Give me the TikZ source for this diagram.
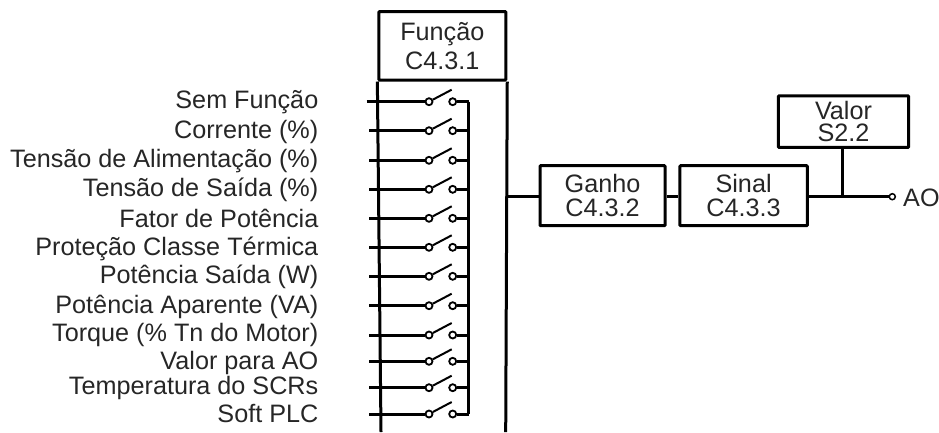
\documentclass[tikz,border=0pt]{standalone}
\usepackage{fontspec}
\setmainfont{Liberation Sans}
\begin{document}
\begin{tikzpicture}[x=1pt,y=-1pt,
  wire/.style={line width=3pt,black,line cap=butt},
  arm/.style={line width=2pt,black},
  contact/.style={circle,draw=black,fill=white,line width=1.8pt,minimum size=7pt,inner sep=0pt},
  lab/.style={anchor=base east,inner sep=0pt,text=black!85,font=\fontsize{25.2}{29}\selectfont},
  blockbox/.style={draw=black,line width=3pt,fill=white,rounded corners=0.8pt,inner sep=0pt,align=center,text=black!85,minimum width=#1},
  blockbox/.default=125pt]
\useasboundingbox (0,0) rectangle (939,432);
% body of the function block
\coordinate (bodyL) at (381,432);
\coordinate (bodyR) at (505.7,432);
\node[blockbox=126.9pt,minimum height=68.5pt,font=\fontsize{25.2}{29}\selectfont] (func) at (442.3,45.75) {Função\\C4.3.1};
\draw[wire] (func.south west) -- (bodyL);
\draw[wire] (func.south east) -- (bodyR);
% switch rows
\foreach \i/\y/\sx/\by/\txt in {
  1/101.7/366.7/108/Sem Função,
  2/130.7/369/138.5/Corrente (\%),
  3/160.3/369/167/Tensão de Alimentação (\%),
  4/189.3/369/196.7/Tensão de Saída (\%),
  5/218.3/369/227.5/Fator de Potência,
  6/247.3/369/255/Proteção Classe Térmica,
  7/276.3/369/283.5/Potência Saída (W),
  8/305.7/369/313/Potência Aparente (VA),
  9/335/369/341.7/Torque (\% Tn do Motor),
  10/361.3/369/369/Valor para AO,
  11/387.7/369/394/Temperatura do SCRs,
  12/414/369/422.5/Soft PLC}{
  \node[lab] (lab\i) at (318.5,\by) {\txt};
  \coordinate (in\i) at (\sx,\y);
  \coordinate (tip\i) at (451.7,\y-12);
  \coordinate (join\i) at (468.7,\y);
  \node[contact] (a\i) at (429,\y) {};
  \node[contact] (b\i) at (452.7,\y) {};
  \draw[wire] (in\i) -- (a\i);
  \draw[arm] (a\i) -- (tip\i);
  \draw[wire] (b\i) -- (join\i);
}
\draw[wire,line cap=square] (join1) -- (join12);
% output chain
\node[blockbox=125pt,minimum height=60pt,font=\fontsize{25.2}{24}\selectfont] (ganho) at (602.5,195.7) {Ganho\\C4.3.2};
\node[blockbox=127.3pt,minimum height=60pt,font=\fontsize{25.2}{24}\selectfont] (sinal) at (743.6,195.7) {Sinal\\C4.3.3};
\node[blockbox=130.4pt,minimum height=51.3pt,font=\fontsize{25.2}{22.7}\selectfont] (valor) at (843.5,121.6) {Valor\\S2.2};
\coordinate (busL) at (505.7,196.7);
\coordinate (tee) at (842,196.7);
\node[contact,minimum size=6pt,line width=1.5pt] (out) at (892.3,196.7) {};
\node[anchor=base west,inner sep=0pt,text=black!85,font=\fontsize{25.2}{29}\selectfont] (ao) at (903,206) {AO};
\draw[wire] (busL) -- (ganho.west |- busL);
\draw[wire] (ganho.east |- busL) -- (sinal.west |- busL);
\draw[wire] (sinal.east |- busL) -- (out);
\draw[wire] (valor.south -| tee) -- (tee);
\end{tikzpicture}
\end{document}
